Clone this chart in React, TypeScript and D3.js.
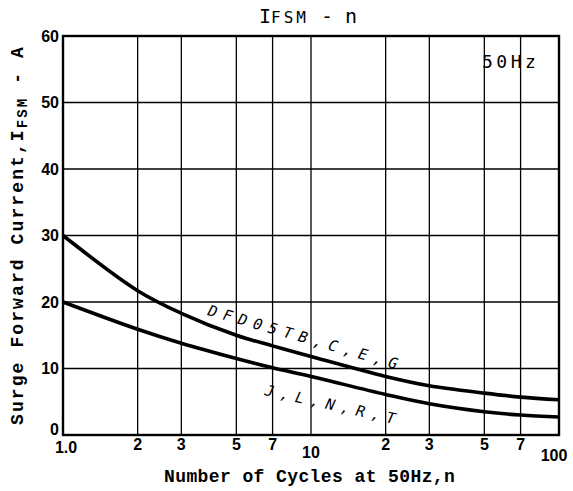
import React from 'react';
import * as d3 from 'd3';

// cycles n (log axis) and surge current
const cycles = [1, 2, 3, 5, 7, 10, 20, 30, 50, 70, 100];
const upperCurrent = [30, 21.7, 18.3, 15.0, 13.4, 11.8, 8.8, 7.4, 6.3, 5.7, 5.3];
const lowerCurrent = [20, 15.9, 13.8, 11.5, 10.1, 8.8, 6.1, 4.7, 3.5, 3.0, 2.7];

const xTicks = [1, 2, 3, 5, 7, 10, 20, 30, 50, 70, 100];
const xTickLabels = ['1.0', '2', '3', '5', '7', '10', '2', '3', '5', '7', '100'];
const yTicks = [0, 10, 20, 30, 40, 50, 60];

const upperLabel = 'DFD05TB,C,E,G';
const lowerLabel = 'J,L,N,R,T';

const W = 573, H = 491;
const margin = { top: 36, right: 14, bottom: 56, left: 63 };

const mono = '"Liberation Mono", "DejaVu Sans Mono", monospace';
const sansMono = '"DejaVu Sans Mono", monospace';
const sans = '"Liberation Sans", Arial, sans-serif';

export default function App() {
  const x = d3.scaleLog().domain([1, 100]).range([margin.left, W - margin.right]);
  const y = d3.scaleLinear().domain([0, 60]).range([H - margin.bottom, margin.top]);

  const line = d3.line<number>()
    .x((_, i) => x(cycles[i]))
    .y(d => y(d))
    .curve(d3.curveCatmullRom.alpha(0.5));

  const x0 = x.range()[0], x1 = x.range()[1];
  const y0 = y.range()[0], y1 = y.range()[1];

  return (
    <svg width={W} height={H} style={{ position: 'absolute', left: 0, top: 0, background: '#fff' }}>
      {/* grid */}
      <g stroke="#000" strokeWidth={1.3}>
        {xTicks.slice(1, -1).map(t => (
          <line key={'vx' + t} x1={x(t)} x2={x(t)} y1={y1} y2={y0} />
        ))}
        {yTicks.slice(1, -1).map(t => (
          <line key={'hy' + t} x1={x0} x2={x1} y1={y(t)} y2={y(t)} />
        ))}
      </g>
      <rect x={x0} y={y1} width={x1 - x0} height={y0 - y1} fill="none" stroke="#000" strokeWidth={2.4} />

      {/* curves */}
      <path d={line(upperCurrent) || ''} fill="none" stroke="#000" strokeWidth={3.6} />
      <path d={line(lowerCurrent) || ''} fill="none" stroke="#000" strokeWidth={3.6} />

      {/* curve labels */}
      <text transform="translate(207,315) rotate(16)" fontFamily={sansMono} fontStyle="italic"
        fontSize={15} letterSpacing={6.6} fill="#000">{upperLabel}</text>
      <text transform="translate(264,395) rotate(12.5)" fontFamily={sansMono} fontStyle="italic"
        fontSize={15} letterSpacing={6.5} fill="#000">{lowerLabel}</text>

      {/* y tick labels */}
      {yTicks.map(t => (
        <text key={'yt' + t} x={59} y={y(t) - (t === 0 ? 6 : 0)} dy="0.36em" textAnchor="end"
          fontFamily={sans} fontWeight="bold" fontSize={16} fill="#000">{t}</text>
      ))}

      {/* x tick labels */}
      {xTicks.map((t, i) => {
        const lab = xTickLabels[i];
        let dx = 0, base = 450;
        if (i === 0) { dx = 3; base = 453; }
        if (lab === '10') base = 458;
        if (lab === '100') { dx = -5; base = 461; }
        return (
          <text key={'xt' + i} x={x(t) + dx} y={base} textAnchor="middle"
            fontFamily={sans} fontWeight="bold" fontSize={16} fill="#000">{lab}</text>
        );
      })}

      {/* title */}
      <text x={259} y={23} fontFamily={sansMono} fontSize={20} fill="#000">
        I<tspan fontSize={16} letterSpacing={3}>FSM</tspan><tspan> - n</tspan>
      </text>

      {/* 50Hz note */}
      <text x={482} y={68} fontFamily={sansMono} fontSize={18} letterSpacing={3.5} fill="#000">50Hz</text>

      {/* axis titles */}
      <text x={164} y={482} fontFamily={mono} fontWeight="bold" fontSize={18} letterSpacing={0.4} fill="#000">
        Number of Cycles at 50Hz,n
      </text>
      <text transform="translate(23,425) rotate(-90)" fontFamily={mono} fontWeight="bold" fontSize={18}
        letterSpacing={2.1} fill="#000">
        Surge Forward Current,I<tspan fontSize={14} dy={4}>FSM</tspan><tspan dy={-4}> - A</tspan>
      </text>
    </svg>
  );
}
